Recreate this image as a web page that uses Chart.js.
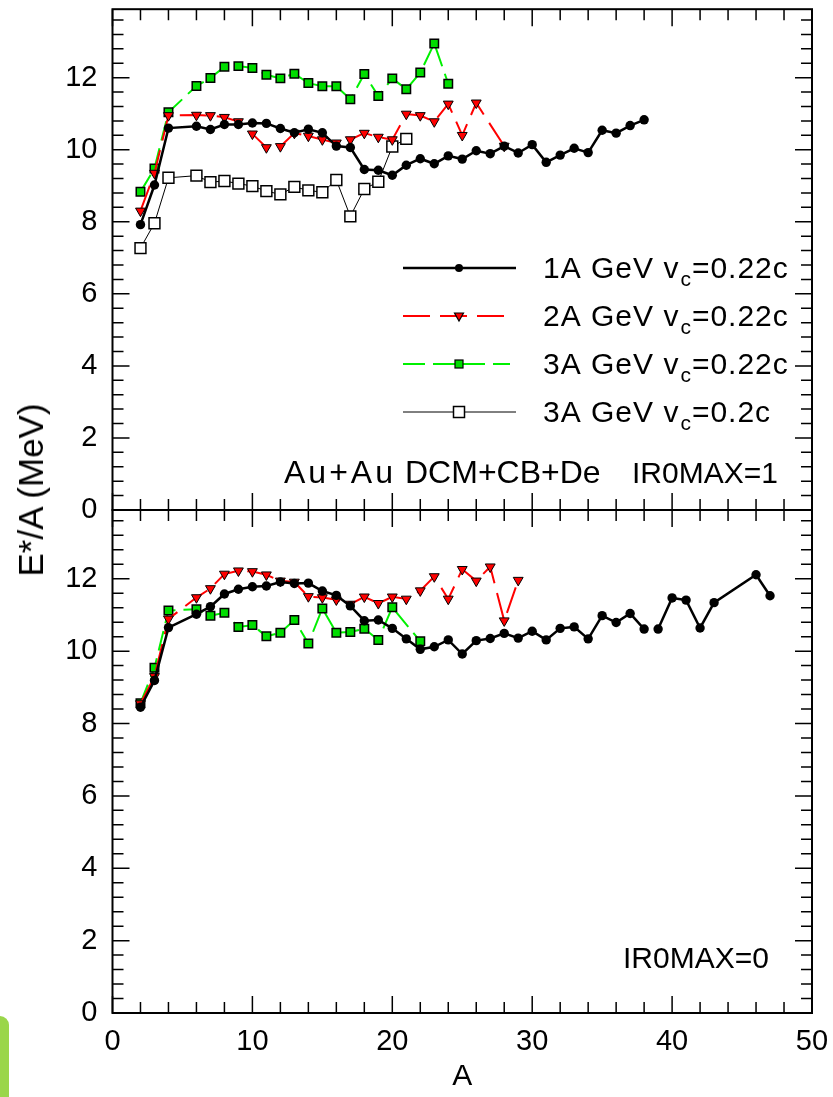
<!DOCTYPE html>
<html>
<head>
<meta charset="utf-8">
<script src="https://cdn.jsdelivr.net/npm/chart.js@4/dist/chart.umd.min.js"></script>
<style>
body{margin:0;background:#fff;}
#wrap{position:relative;width:833px;height:1097px;overflow:hidden;background:#fff;}
#topChart{position:absolute;left:0;top:0;}
#botChart{position:absolute;left:0;top:490px;}
#ytitle{position:absolute;left:31px;top:490px;transform:translate(-50%,-50%) rotate(-90deg);
  font:35px "Liberation Sans",Arial,sans-serif;white-space:nowrap;color:#000;}
#edge{position:absolute;left:0;top:1016px;width:9px;height:81px;background:#9ad64a;border-top-right-radius:9px;}
</style>
</head>
<body>
<div id="wrap">
  <canvas id="topChart" width="833" height="540"></canvas>
  <canvas id="botChart" width="833" height="607"></canvas>
  <div id="ytitle">E*/A (MeV)</div>
  <div id="edge"></div>
</div>
<script>
// axis ticks
const xTicks = [0, 10, 20, 30, 40, 50];
const yTicks = [0, 2, 4, 6, 8, 10, 12];
const yMax = 13.9;

// upper panel, IR0MAX=1
const aBlackTop = [2,3,4,6,7,8,9,10,11,12,13,14,15,16,17,18,19,20,21,22,23,24,25,26,27,28,29,30,31,32,33,34,35,36,37,38];
const eBlackTop = [7.92,9.02,10.60,10.65,10.56,10.70,10.70,10.74,10.73,10.59,10.47,10.57,10.47,10.10,10.06,9.45,9.43,9.29,9.57,9.75,9.61,9.83,9.74,9.97,9.89,10.10,9.91,10.14,9.65,9.85,10.04,9.92,10.54,10.46,10.67,10.83];
const aRedTop = [2,3,4,6,7,8,9,10,11,12,13,14,15,16,17,18,19,20,21,22,23,24,25,26,28];
const eRedTop = [8.30,9.35,10.95,10.96,10.95,10.90,10.78,10.44,10.06,10.09,10.46,10.38,10.28,10.19,10.28,10.46,10.35,10.28,10.99,10.95,10.78,11.27,10.40,11.30,10.10];
const aGreenTop = [2,3,4,6,7,8,9,10,11,12,13,14,15,16,17,18,19,20,21,22,23,24];
const eGreenTop = [8.83,9.48,11.04,11.77,11.99,12.30,12.32,12.27,12.08,11.98,12.11,11.85,11.76,11.76,11.40,12.10,11.49,11.98,11.68,12.14,12.95,11.83];
const aOpenTop = [2,3,4,6,7,8,9,10,11,12,13,14,15,16,17,18,19,20,21];
const eOpenTop = [7.27,7.96,9.22,9.28,9.10,9.13,9.06,8.99,8.85,8.76,8.97,8.87,8.82,9.16,8.15,8.91,9.11,10.09,10.30];

// lower panel, IR0MAX=0 (null = break in the line)
const aBlackBot = [2,3,4,6,7,8,9,10,11,12,13,14,15,16,17,18,19,20,21,22,23,24,25,26,27,28,29,30,31,32,33,34,35,36,37,38,38.5,39,40,41,42,43,46,47];
const eBlackBot = [8.45,9.19,10.65,11.02,11.23,11.58,11.71,11.78,11.80,11.91,11.87,11.88,11.66,11.54,11.25,10.84,10.86,10.63,10.34,10.05,10.12,10.31,9.92,10.29,10.35,10.49,10.36,10.55,10.31,10.63,10.67,10.34,10.98,10.79,11.04,10.61,null,10.61,11.47,11.41,10.64,11.34,12.11,11.53];
const aRedBot = [2,3,4,6,7,8,9,10,11,12,13,14,15,16,17,18,19,20,21,22,23,24,25,26,27,28,29];
const eRedBot = [8.55,9.30,10.89,11.48,11.73,12.13,12.22,12.20,12.11,11.94,11.91,11.51,11.48,11.42,11.30,11.50,11.32,11.50,11.44,11.67,12.06,11.44,12.26,11.94,12.33,10.84,11.96];
const aGreenBot = [2,3,4,6,7,8,9,10,11,12,13,14,15,16,17,18,19,20,22];
const eGreenBot = [8.56,9.54,11.12,11.16,10.98,11.06,10.67,10.72,10.41,10.51,10.86,10.21,11.18,10.51,10.53,10.62,10.31,11.21,10.27];

const FONT = '"Liberation Sans", Arial, sans-serif';
Chart.defaults.color = '#000';
Chart.defaults.font.family = FONT;

const pts = (a, e) => a.map((v, i) => ({x: v, y: e[i]}));

const styles = {
  black: {borderColor:'#000', borderWidth:2.5, pointStyle:'circle', pointRadius:4.7,
          pointBackgroundColor:'#000', pointBorderColor:'#000', pointBorderWidth:0},
  red: {borderColor:'#ff0000', borderWidth:2, borderDash:[27,10], pointStyle:'triangle', rotation:180,
        pointRadius:5.7, pointBackgroundColor:'#ff0000', pointBorderColor:'#000', pointBorderWidth:1},
  green: {borderColor:'#00f000', borderWidth:2, borderDash:[20,8], pointStyle:'rect', pointRadius:6,
          pointBackgroundColor:'#00dd00', pointBorderColor:'#000', pointBorderWidth:1.5},
  open: {borderColor:'#000', borderWidth:1, pointStyle:'rect', pointRadius:7.7,
         pointBackgroundColor:'#fff', pointBorderColor:'#000', pointBorderWidth:1.5}
};

// frame with inward ticks on all four sides
const framePlugin = {
  id: 'frame',
  beforeDatasetsDraw(chart) {
    const {ctx, chartArea: a, scales: {x, y}} = chart;
    ctx.save();
    ctx.strokeStyle = '#000';
    ctx.lineWidth = 1.5;
    ctx.beginPath();
    for (let v = 0; v <= 50; v += 2) {
      const len = v % 10 === 0 ? 17 : 11;
      const px = x.getPixelForValue(v);
      ctx.moveTo(px, a.bottom); ctx.lineTo(px, a.bottom - len);
      ctx.moveTo(px, a.top); ctx.lineTo(px, a.top + len);
    }
    for (let i = 0; i * 0.4 <= yMax; i++) {
      const len = i % 5 === 0 ? 17 : 11;
      const py = y.getPixelForValue(i * 0.4);
      ctx.moveTo(a.left, py); ctx.lineTo(a.left + len, py);
      ctx.moveTo(a.right, py); ctx.lineTo(a.right - len, py);
    }
    ctx.stroke();
    ctx.lineWidth = 2;
    ctx.strokeRect(a.left, a.top, a.right - a.left, a.bottom - a.top);
    ctx.restore();
  }
};

function marker(ctx, kind, x, y) {
  ctx.save();
  ctx.lineWidth = 1.2;
  ctx.strokeStyle = '#000';
  if (kind === 'black') {
    ctx.fillStyle = '#000';
    ctx.beginPath(); ctx.arc(x, y, 4, 0, Math.PI * 2); ctx.fill();
  } else if (kind === 'red') {
    ctx.fillStyle = '#ff0000';
    ctx.beginPath(); ctx.moveTo(x - 4.5, y - 3); ctx.lineTo(x + 4.5, y - 3); ctx.lineTo(x, y + 5); ctx.closePath();
    ctx.fill(); ctx.stroke();
  } else if (kind === 'green') {
    ctx.fillStyle = '#00dd00';
    ctx.fillRect(x - 4, y - 4, 8, 8); ctx.strokeRect(x - 4, y - 4, 8, 8);
  } else {
    ctx.fillStyle = '#fff'; ctx.lineWidth = 1.5;
    ctx.fillRect(x - 5.5, y - 5.5, 11, 11); ctx.strokeRect(x - 5.5, y - 5.5, 11, 11);
  }
  ctx.restore();
}

const legendRows = [
  {kind:'black', pre:'1A GeV v', post:'=0.22c', color:'#000', width:2.5, dash:[], end:516},
  {kind:'red', pre:'2A GeV v', post:'=0.22c', color:'#ff0000', width:2, dash:[27,10], end:504},
  {kind:'green', pre:'3A GeV v', post:'=0.22c', color:'#00f000', width:2, dash:[22,8], end:510},
  {kind:'open', pre:'3A GeV v', post:'=0.2c', color:'#000', width:1, dash:[], end:516}
];

const topTextPlugin = {
  id: 'topText',
  afterDraw(chart) {
    const ctx = chart.ctx;
    ctx.save();
    legendRows.forEach((r, i) => {
      const y = 268 + i * 48;
      ctx.strokeStyle = r.color; ctx.lineWidth = r.width; ctx.setLineDash(r.dash);
      ctx.beginPath(); ctx.moveTo(403, y); ctx.lineTo(r.end, y); ctx.stroke();
      ctx.setLineDash([]);
      marker(ctx, r.kind, 459, y);
      ctx.fillStyle = '#000';
      ctx.textBaseline = 'alphabetic';
      ctx.letterSpacing = '1px';
      let x = 543;
      const base = y + 10;
      ctx.font = '30px ' + FONT;
      ctx.fillText(r.pre, x, base);
      x += ctx.measureText(r.pre).width;
      ctx.font = '21px ' + FONT;
      ctx.fillText('c', x + 1, base + 8);
      x += ctx.measureText('c').width + 1;
      ctx.font = '30px ' + FONT;
      ctx.fillText(r.post, x, base);
    });
    ctx.font = '32px ' + FONT;
    ctx.letterSpacing = '3px';
    ctx.fillText('Au+Au', 284, 483);
    ctx.letterSpacing = '0px';
    ctx.fillText('DCM+CB+De', 405, 483);
    ctx.font = '30px ' + FONT;
    ctx.fillText('IR0MAX=1', 632, 483);
    ctx.restore();
  }
};

const botTextPlugin = {
  id: 'botText',
  afterDraw(chart) {
    const ctx = chart.ctx;
    ctx.save();
    ctx.fillStyle = '#000';
    ctx.font = '30px ' + FONT;
    ctx.textBaseline = 'alphabetic';
    ctx.fillText('IR0MAX=0', 623, 968 - 490);
    ctx.restore();
  }
};

function yScale() {
  return {
    type: 'linear', min: 0, max: yMax,
    grid: {display: false, drawTicks: false},
    border: {display: false},
    ticks: {font: {size: 29}, padding: 15},
    afterBuildTicks: s => { s.ticks = yTicks.map(v => ({value: v})); },
    afterFit: s => { s.width = 112.5; s.paddingTop = 0; s.paddingBottom = 0; }
  };
}

new Chart(document.getElementById('topChart'), {
  type: 'line',
  data: {
    datasets: [
      {data: pts(aBlackTop, eBlackTop), ...styles.black},
      {data: pts(aRedTop, eRedTop), ...styles.red},
      {data: pts(aGreenTop, eGreenTop), ...styles.green},
      {data: pts(aOpenTop, eOpenTop), ...styles.open}
    ]
  },
  options: {
    responsive: false, animation: false,
    layout: {padding: {top: 6.5, right: 21, bottom: 30, left: 0}},
    plugins: {legend: {display: false}, tooltip: {enabled: false}},
    scales: {
      x: {type: 'linear', min: 0, max: 50, display: false},
      y: yScale()
    }
  },
  plugins: [framePlugin, topTextPlugin]
});

new Chart(document.getElementById('botChart'), {
  type: 'line',
  data: {
    datasets: [
      {data: pts(aBlackBot, eBlackBot), spanGaps: false, ...styles.black},
      {data: pts(aRedBot, eRedBot), ...styles.red},
      {data: pts(aGreenBot, eGreenBot), ...styles.green}
    ]
  },
  options: {
    responsive: false, animation: false,
    layout: {padding: {top: 20, right: 21, bottom: 0, left: 0}},
    plugins: {legend: {display: false}, tooltip: {enabled: false}},
    scales: {
      x: {
        type: 'linear', min: 0, max: 50,
        grid: {display: false, drawTicks: false},
        border: {display: false},
        ticks: {font: {size: 29}, padding: 12, maxRotation: 0},
        title: {display: true, text: 'A', font: {size: 30}, padding: {top: 0, bottom: 2}},
        afterBuildTicks: s => { s.ticks = xTicks.map(v => ({value: v})); },
        afterFit: s => { s.height = 84; s.paddingLeft = 0; s.paddingRight = 0; }
      },
      y: yScale()
    }
  },
  plugins: [framePlugin, botTextPlugin]
});
</script>
</body>
</html>
